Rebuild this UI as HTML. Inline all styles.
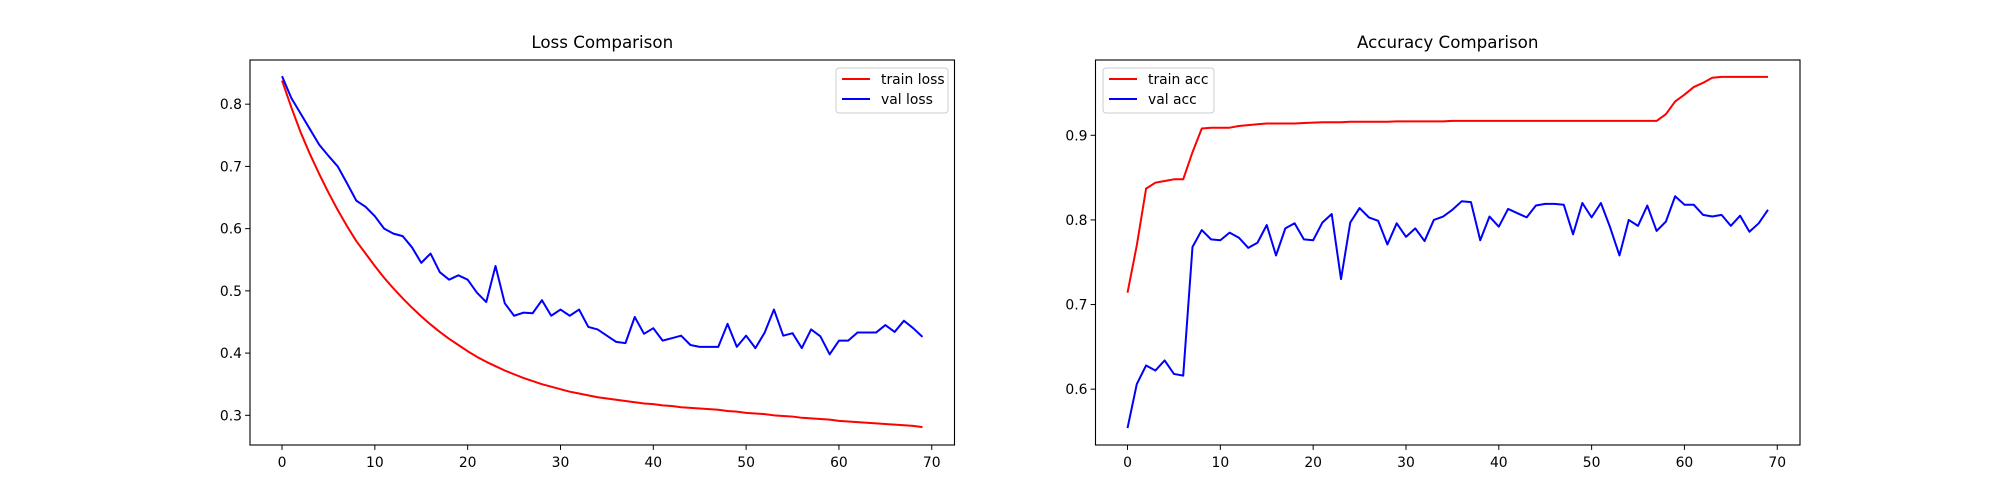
<!DOCTYPE html>
<html><head><meta charset="utf-8"><style>
body{margin:0;background:#fff;}
svg{display:block;font-family:"DejaVu Sans","Liberation Sans",sans-serif;}
</style></head><body>
<svg id="fig" width="2000" height="500"></svg>
<script>
const epochs = Array.from({length:70},(_,i)=>i);
const trainLoss = [.838,.795,.755,.72,.688,.658,.63,.604,.58,.56,.54,.521,.504,.488,.473,.459,.446,.434,.423,.413,.403,.394,.386,.379,.372,.366,.36,.355,.35,.346,.342,.338,.335,.332,.329,.327,.325,.323,.321,.319,.318,.316,.315,.313,.312,.311,.31,.309,.307,.306,.304,.303,.302,.3,.299,.298,.296,.295,.294,.293,.291,.29,.289,.288,.287,.286,.285,.284,.283,.281];
const valLoss = [.845,.81,.785,.76,.735,.717,.70,.673,.645,.635,.62,.60,.592,.588,.57,.545,.56,.53,.518,.525,.518,.497,.482,.54,.48,.46,.465,.464,.485,.46,.47,.46,.47,.442,.438,.428,.418,.416,.458,.431,.44,.42,.424,.428,.413,.41,.41,.41,.447,.41,.428,.408,.433,.47,.428,.432,.408,.438,.427,.398,.42,.42,.433,.433,.433,.445,.434,.452,.44,.426];
const trainAcc = [.714,.77,.837,.844,.846,.848,.848,.88,.908,.909,.909,.909,.911,.912,.913,.914,.914,.914,.914,.9145,.915,.9155,.9155,.9155,.916,.916,.916,.916,.916,.9165,.9165,.9165,.9165,.9165,.9165,.917,.917,.917,.917,.917,.917,.917,.917,.917,.917,.917,.917,.917,.917,.917,.917,.917,.917,.917,.917,.917,.917,.917,.925,.94,.948,.957,.962,.968,.969,.969,.969,.969,.969,.969];
const valAcc = [.554,.606,.628,.622,.634,.618,.616,.768,.788,.777,.776,.785,.779,.767,.773,.794,.758,.79,.796,.777,.776,.797,.807,.73,.797,.814,.803,.799,.771,.796,.78,.79,.775,.8,.804,.812,.822,.821,.776,.804,.792,.813,.808,.803,.817,.819,.819,.818,.783,.82,.803,.82,.791,.758,.80,.793,.817,.787,.798,.828,.818,.818,.806,.804,.806,.793,.805,.786,.796,.812];
const xTicks = [0,10,20,30,40,50,60,70];
const lossTicks = [0.3,0.4,0.5,0.6,0.7,0.8];
const accTicks = [0.6,0.7,0.8,0.9];

const NS="http://www.w3.org/2000/svg";
const svg=document.getElementById('fig');
function mk(t,a,p){const e=document.createElementNS(NS,t);for(const k in a)e.setAttribute(k,a[k]);(p||svg).appendChild(e);return e;}

function panel(o){
  const g=mk('g',{});
  
  
  const X=v=>o.x0+(v+3.45)/75.9*o.w;
  const Y=v=>o.y0+o.h-(v-o.ymin)/(o.ymax-o.ymin)*o.h;
  const series=[[o.s1,'red',o.l1],[o.s2,'blue',o.l2]];
  series.forEach(([d,c,l])=>{
    const p=mk('polyline',{points:d.map((v,i)=>X(epochs[i])+','+Y(v)).join(' '),fill:'none',stroke:c,'stroke-width':2,'stroke-linejoin':'round'},g);
    
    
  });
  const fr=mk('rect',{x:o.x0,y:o.y0,width:o.w,height:o.h,fill:'none',stroke:'#000','stroke-width':1.1},g);
  
  
  xTicks.forEach(t=>{
    const x=X(t);
    mk('line',{x1:x,x2:x,y1:o.y0+o.h,y2:o.y0+o.h+4.9,stroke:'#000','stroke-width':1},g);
    const tx=mk('text',{x:x,y:o.y0+o.h+22,'text-anchor':'middle','font-size':13.9},g);
    tx.textContent=t;
    
    
  });
  o.yt.forEach(t=>{
    const y=Y(t);
    mk('line',{x1:o.x0-4.9,x2:o.x0,y1:y,y2:y,stroke:'#000','stroke-width':1},g);
    const tx=mk('text',{x:o.x0-8,y:y+5,'text-anchor':'end','font-size':13.9},g);
    tx.textContent=t.toFixed(1);
    
    
  });
  const ti=mk('text',{x:o.x0+o.w/2,y:o.y0-12,'text-anchor':'middle','font-size':16.7},g);
  ti.textContent=o.title;
  
  
  const lg=mk('g',{},g);
  
  
  mk('rect',{x:o.lx,y:68,width:o.lw,height:45,rx:3,fill:'#fff',stroke:'#ccc','stroke-width':1},lg);
  series.forEach(([d,c,l],i)=>{
    const yy=79+i*20;
    mk('line',{x1:o.lx+6,x2:o.lx+34,y1:yy,y2:yy,stroke:c,'stroke-width':2},lg);
    const tx=mk('text',{x:o.lx+45,y:yy+5,'font-size':13.9},lg);
    tx.textContent=l;
    
    
  });
}
panel({name:'loss-chart',x0:250,y0:60,w:704.5,h:385,ymin:0.2523,ymax:0.871,s1:trainLoss,s2:valLoss,l1:'train loss',l2:'val loss',yt:lossTicks,title:'Loss Comparison',lx:836,lw:112});
panel({name:'accuracy-chart',x0:1095.5,y0:60,w:704.5,h:385,ymin:0.534,ymax:0.989,s1:trainAcc,s2:valAcc,l1:'train acc',l2:'val acc',yt:accTicks,title:'Accuracy Comparison',lx:1103,lw:111});
</script>
</body></html>
